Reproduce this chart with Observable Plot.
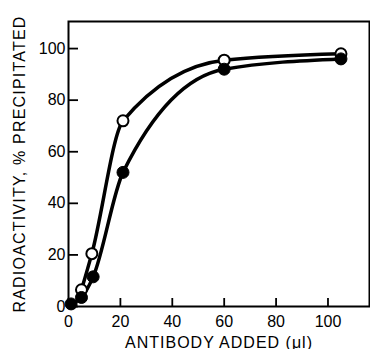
<!DOCTYPE html>
<html>
<head>
<meta charset="utf-8">
<script src="https://cdn.jsdelivr.net/npm/d3@7"></script>
<script src="https://cdn.jsdelivr.net/npm/@observablehq/plot@0.6"></script>
<style>
  html, body { margin: 0; padding: 0; background: #fff; }
  #chart svg { display: block; }
  #chart [aria-label="x-axis label"] text { letter-spacing: 1px; }
  #chart [aria-label="y-axis label"] text { letter-spacing: 1.2px; }
</style>
</head>
<body>
<div id="chart"></div>
<script>
// Data
const antibodyOpen = [5, 9, 21, 60, 105];
const precipOpen = [6.5, 20.5, 72, 95.5, 98];
const antibodyFilled = [1, 5, 9.5, 21, 60, 105];
const precipFilled = [1, 3.5, 11.5, 52, 92, 96];
const xTicks = [0, 20, 40, 60, 80, 100];
const yTicks = [0, 20, 40, 60, 80, 100];

const openData = antibodyOpen.map((x, i) => ({x, y: precipOpen[i]}));
const filledData = antibodyFilled.map((x, i) => ({x, y: precipFilled[i]}));

const font = "'Liberation Sans', Arial, sans-serif";

const chart = Plot.plot({
  width: 370,
  height: 349,
  marginLeft: 68,
  marginRight: 1,
  marginTop: 21,
  marginBottom: 43,
  style: {fontFamily: font, fontSize: "16px", color: "#000", background: "#fff"},
  x: {domain: [0, 116]},
  y: {domain: [0, 110.5]},
  marks: [
    Plot.frame({stroke: "#000", strokeWidth: 2}),
    Plot.axisX({ticks: xTicks, tickSize: 8, dy: -8, text: null, label: null, strokeWidth: 1.8}),
    Plot.axisX({ticks: xTicks, tickSize: 0, tickPadding: 9, fontSize: 16,
      label: "ANTIBODY ADDED (μl)", labelAnchor: "center", labelOffset: 41, labelArrow: "none"}),
    Plot.axisY({ticks: yTicks, tickSize: 10, dx: 10, text: null, label: null, strokeWidth: 1.8}),
    Plot.axisY({ticks: yTicks, tickSize: 0, tickPadding: 3, fontSize: 16,
      label: "RADIOACTIVITY, % PRECIPITATED", labelAnchor: "center", labelOffset: 55, labelArrow: "none"}),
    Plot.line(filledData, {x: "x", y: "y", curve: "monotone-x", stroke: "#000", strokeWidth: 3.5}),
    Plot.line(openData, {x: "x", y: "y", curve: "monotone-x", stroke: "#000", strokeWidth: 3.5}),
    Plot.dot(openData, {x: "x", y: "y", r: 5.5, fill: "#fff", stroke: "#000", strokeWidth: 2}),
    Plot.dot(filledData, {x: "x", y: "y", r: 6, fill: "#000", stroke: "#000", strokeWidth: 1})
  ]
});
document.getElementById("chart").appendChild(chart);
</script>
</body>
</html>
